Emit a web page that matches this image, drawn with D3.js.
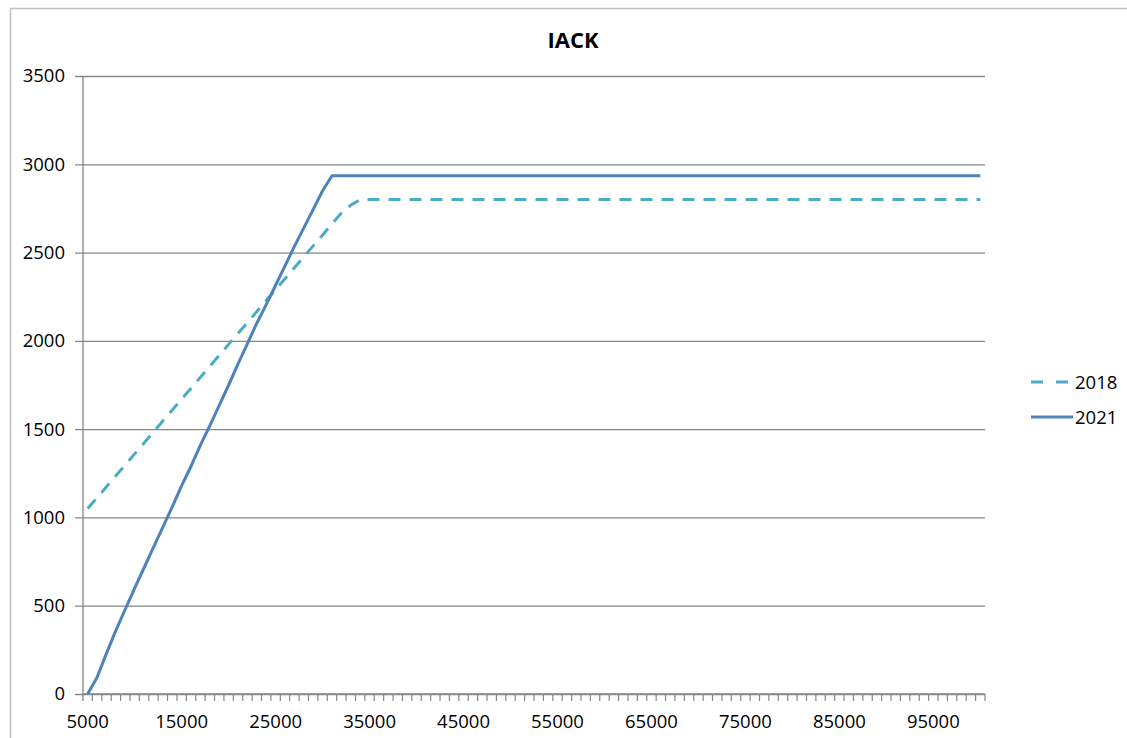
<!DOCTYPE html>
<html>
<head>
<meta charset="utf-8">
<script src="https://cdn.jsdelivr.net/npm/d3@7"></script>
<style>
  html, body { margin: 0; padding: 0; background: #fff; }
  svg { display: block; font-family: "Open Sans", "Noto Sans", sans-serif; }
</style>
</head>
<body>
<svg id="chart" width="1127" height="738"></svg>
<script>
const title = "IACK";
const categories = [
  5000,6000,7000,8000,9000,10000,11000,12000,13000,14000,15000,16000,17000,18000,19000,20000,
  21000,22000,23000,24000,25000,26000,27000,28000,29000,30000,31000,32000,33000,34000,35000,
  36000,37000,38000,39000,40000,41000,42000,43000,44000,45000,46000,47000,48000,49000,50000,
  51000,52000,53000,54000,55000,56000,57000,58000,59000,60000,61000,62000,63000,64000,65000,
  66000,67000,68000,69000,70000,71000,72000,73000,74000,75000,76000,77000,78000,79000,80000,
  81000,82000,83000,84000,85000,86000,87000,88000,89000,90000,91000,92000,93000,94000,95000,
  96000,97000,98000,99000,100000
];
const series2018 = [
  1050,1112,1174,1236,1298,1360,1422,1484,1546,1608,1670,1732,1794,1856,1918,1980,
  2042,2104,2166,2228,2290,2352,2414,2476,2538,2600,2662,2724,2768,2800,2800,
  2800,2800,2800,2800,2800,2800,2800,2800,2800,2800,2800,2800,2800,2800,2800,
  2800,2800,2800,2800,2800,2800,2800,2800,2800,2800,2800,2800,2800,2800,2800,
  2800,2800,2800,2800,2800,2800,2800,2800,2800,2800,2800,2800,2800,2800,2800,
  2800,2800,2800,2800,2800,2800,2800,2800,2800,2800,2800,2800,2800,2800,2800,
  2800,2800,2800,2800,2800
];
const series2021 = [
  0,95,230,360,480,600,715,830,945,1060,1180,1290,1410,1520,1635,1750,
  1870,1985,2100,2205,2315,2425,2535,2640,2745,2850,2935,2935,2935,2935,2935,
  2935,2935,2935,2935,2935,2935,2935,2935,2935,2935,2935,2935,2935,2935,2935,
  2935,2935,2935,2935,2935,2935,2935,2935,2935,2935,2935,2935,2935,2935,2935,
  2935,2935,2935,2935,2935,2935,2935,2935,2935,2935,2935,2935,2935,2935,2935,
  2935,2935,2935,2935,2935,2935,2935,2935,2935,2935,2935,2935,2935,2935,2935,
  2935,2935,2935,2935,2935
];
const yTicks = [0,500,1000,1500,2000,2500,3000,3500];
const xTickLabels = [5000,15000,25000,35000,45000,55000,65000,75000,85000,95000];
const seriesNames = ["2018","2021"];

const svg = d3.select("#chart");

// outer chart border (partially visible)
svg.append("path")
  .attr("d", "M10.5,738 L10.5,8.5 L1127,8.5")
  .attr("fill","none").attr("stroke","#bfbfbf").attr("stroke-width",1.5);

const plot = {left: 83, right: 985, top: 76, bottom: 694};

const x = d3.scaleBand().domain(categories).range([plot.left, plot.right]).paddingInner(0).paddingOuter(0);
const y = d3.scaleLinear().domain([0,3500]).range([plot.bottom, plot.top]);
const xc = d => x(d) + x.bandwidth()/2;

// title
svg.append("text").attr("x", 573).attr("y", 48).attr("text-anchor","middle")
  .attr("font-size", 22).attr("font-weight","bold").attr("fill","#000").text(title);

// gridlines + y axis labels
const yAxis = d3.axisLeft(y).tickValues(yTicks).tickSize(-(plot.right - plot.left)).tickPadding(18).tickFormat(d3.format("d"));
const gy = svg.append("g").attr("transform", `translate(${plot.left},0)`).call(yAxis);
gy.select(".domain").remove();
gy.selectAll(".tick line").attr("stroke","#868686").attr("stroke-width",1.3).attr("x1", -8);
gy.selectAll(".tick text").attr("font-size", 18.5).attr("fill","#000").attr("font-family","Open Sans, sans-serif");

// y axis line
svg.append("line").attr("x1",plot.left).attr("x2",plot.left).attr("y1",plot.top).attr("y2",plot.bottom+7)
  .attr("stroke","#868686").attr("stroke-width",1.3);

// x axis
svg.append("line").attr("x1",plot.left).attr("x2",plot.right).attr("y1",plot.bottom).attr("y2",plot.bottom)
  .attr("stroke","#868686").attr("stroke-width",1.3);
const boundaries = categories.map(c => x(c)).concat([plot.right]);
svg.append("g").selectAll("line").data(boundaries.slice(1)).join("line")
  .attr("x1", d => d).attr("x2", d => d).attr("y1", plot.bottom).attr("y2", plot.bottom + 7)
  .attr("stroke","#868686").attr("stroke-width",1.2);
svg.append("g").selectAll("text").data(xTickLabels).join("text")
  .attr("x", d => xc(d)).attr("y", plot.bottom + 34).attr("text-anchor","middle")
  .attr("font-size", 18.5).attr("fill","#000").text(d => d);

// lines
const line = d3.line().x((d,i) => xc(categories[i])).y(d => y(d));
svg.append("path").datum(series2018).attr("d", line).attr("fill","none")
  .attr("stroke","#4BACC6").attr("stroke-width",3).attr("stroke-dasharray","12,9");
svg.append("path").datum(series2021).attr("d", line).attr("fill","none")
  .attr("stroke","#4F81BD").attr("stroke-width",3).attr("stroke-linejoin","round");

// legend
const leg = svg.append("g");
leg.append("line").attr("x1",1031).attr("x2",1072).attr("y1",382).attr("y2",382)
  .attr("stroke","#4BACC6").attr("stroke-width",3).attr("stroke-dasharray","12,13");
leg.append("text").attr("x",1075).attr("y",389).attr("font-size",18.5).text(seriesNames[0]);
leg.append("line").attr("x1",1031).attr("x2",1073).attr("y1",417).attr("y2",417)
  .attr("stroke","#4F81BD").attr("stroke-width",3);
leg.append("text").attr("x",1075).attr("y",424).attr("font-size",18.5).text(seriesNames[1]);
</script>
</body>
</html>
